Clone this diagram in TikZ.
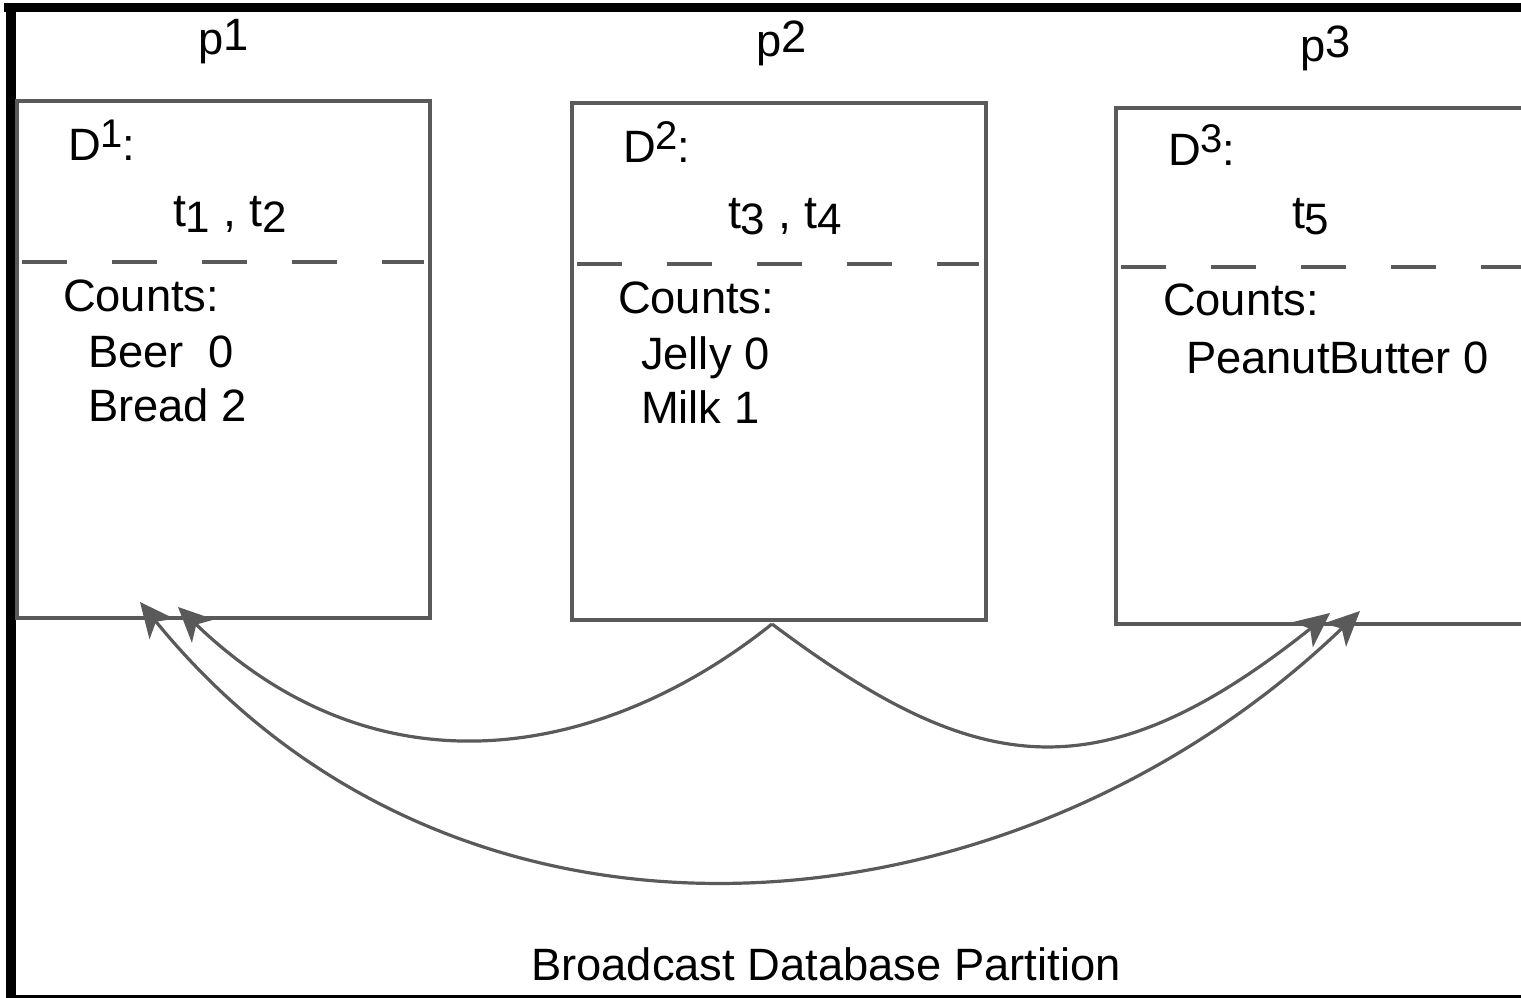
\documentclass[tikz,border=0pt]{standalone}
\usepackage{fontspec}
\setmainfont{Liberation Sans}
\usetikzlibrary{arrows.meta}
\definecolor{edgegray}{HTML}{5A5A5A}
\newcommand{\bigf}{\fontsize{34}{40}\selectfont}
\newcommand{\tfont}{\fontsize{35}{40}\selectfont}
\newcommand{\dletter}{{\fontsize{34}{38}\selectfont D}}
\newcommand{\supdig}[1]{\raisebox{10pt}{\fontsize{30}{34}\selectfont #1}}
\newcommand{\subdig}[1]{\raisebox{-4.5pt}{\fontsize{33}{36}\selectfont #1}}
\newcommand{\dcolon}{{\fontsize{34}{38}\selectfont :}}
\tikzset{
  partbox/.style={draw=edgegray, line width=2.4pt, rectangle, outer sep=0pt, inner sep=0pt, anchor=north west},
  sepline/.style={draw=edgegray, line width=2.4pt, dash pattern=on 33.75pt off 33.75pt},
  lbl/.style={anchor=base west, inner sep=0pt, outer sep=0pt, font=\bigf},
  conn/.style={draw=edgegray, line width=2.4pt},
  tip/.style={-{Stealth[length=26pt,width=24pt,inset=7pt]}},
  tips/.style={{Stealth[length=26pt,width=24pt,inset=7pt]}-{Stealth[length=26pt,width=24pt,inset=7pt]}}
}
\begin{document}
\begin{tikzpicture}[x=0.75pt,y=-0.75pt]
\useasboundingbox (0,0) rectangle (1521,998);
\fill[white] (0,0) rectangle (1521,998);
% frame
\fill[black] (4,3) rectangle (1521,12);
\fill[black] (6,3) rectangle (15.5,998);
\fill[black] (15,995) rectangle (1521,998);

% boxes
\node[partbox, minimum width=309.75pt, minimum height=387.75pt] (box1) at (17,101) {};
\node[partbox, minimum width=310.5pt, minimum height=387.75pt] (box2) at (572,103) {};
\node[partbox, minimum width=310.5pt, minimum height=387pt] (box3) at (1116,108) {};

% dashed separators
\draw[sepline] (22,262) -- (424,262);
\draw[sepline] (577,264) -- (979,264);
\draw[sepline] (1121,267) -- (1523,267);

% processor labels
\node[lbl] (p1) at (198,55) {p\raisebox{3pt}{1}};
\node[lbl] (p2) at (756,57) {p\raisebox{3pt}{2}};
\node[lbl] (p3) at (1300,62) {p\raisebox{3pt}{3}};

% box 1
\node[lbl] (d1) at (68,160.5) {\dletter\supdig{1}\dcolon};
\node[lbl, font=\tfont] (t12) at (173,227) {t\subdig{1} , t\subdig{2}};
\node[lbl] (c1) at (63,312) {Counts:};
\node[lbl] (beer) at (88,368) {Beer\ \ 0};
\node[lbl] (bread) at (88,422) {Bread 2};

% box 2
\node[lbl] (d2) at (623,163) {\dletter\supdig{2}\dcolon};
\node[lbl, font=\tfont] (t34) at (728,229) {t\subdig{3} , t\subdig{4}};
\node[lbl] (c2) at (618,314) {Counts:};
\node[lbl] (jelly) at (641,370) {Jelly 0};
\node[lbl] (milk) at (641,424) {Milk 1};

% box 3
\node[lbl] (d3) at (1168,166) {\dletter\supdig{3}\dcolon};
\node[lbl, font=\tfont] (t5) at (1292,229) {t\subdig{5}};
\node[lbl] (c3) at (1163,316) {Counts:};
\node[lbl] (pb) at (1186,374) {PeanutButter 0};

% caption
\node[anchor=base, inner sep=0pt, font=\bigf] (cap) at (826,980) {Broadcast Database Partition};

% connector end points
\coordinate (src2) at (772,624);
\coordinate (in1a) at (178,607);
\coordinate (in1b) at (140,602);
\coordinate (in3a) at (1330,613);
\coordinate (in3b) at (1360,611);

% connectors
\draw[conn, tip] (src2) .. controls (612,752) and (385,806) .. (in1a);
\draw[conn, tip] (src2) .. controls (975,776) and (1098,798) .. (in3a);
\draw[conn, tips] (in1b) .. controls (460,995) and (1013,944) .. (in3b);
\end{tikzpicture}
\end{document}
